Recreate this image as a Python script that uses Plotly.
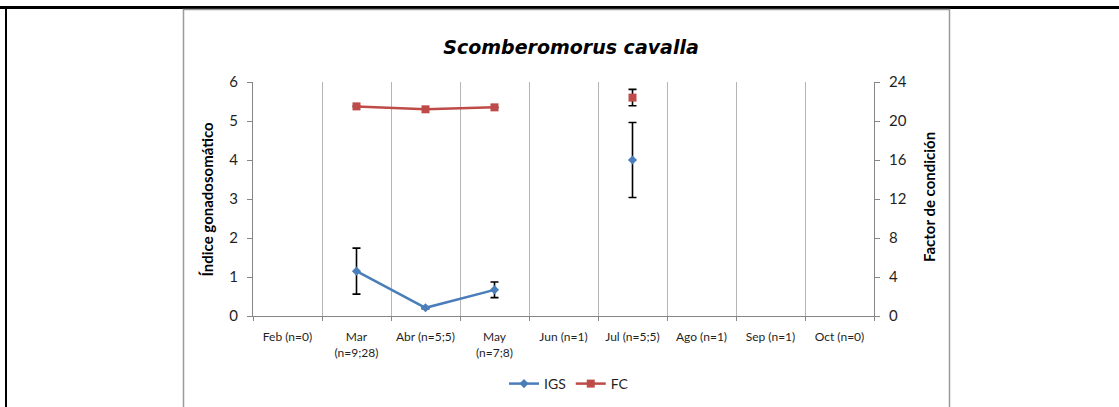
import plotly.graph_objects as go

# Monthly categories (sample sizes shown under each month)
months = ["Feb (n=0)", "Mar<br>(n=9;28)", "Abr (n=5;5)", "May<br>(n=7;8)",
          "Jun (n=1)", "Jul (n=5;5)", "Ago (n=1)", "Sep (n=1)", "Oct (n=0)"]

# Índice gonadosomático (IGS) mean and error
igs = [None, 1.15, 0.21, 0.67, None, 4.0, None, None, None]
igs_err = [None, 0.59, 0.02, 0.2, None, 0.96, None, None, None]

# Factor de condición (FC) mean and error
fc = [None, 21.5, 21.2, 21.4, None, 22.4, None, None, None]
fc_err = [None, None, None, None, None, 0.84, None, None, None]

W, H = 1119, 407
L, R, T, B = 253, 874, 82, 316   # plot-area edges in pixels
PW, PH = R - L, B - T


def px_x(x):
    return (x - L) / PW


def px_y(y):
    return (B - y) / PH


font_main = "Lato, 'Open Sans', sans-serif"
txt = "#1f1f1f"
blue = "#4A7EBB"
red = "#BE4B48"

fig = go.Figure()

fig.add_trace(go.Scatter(
    x=months, y=igs, name="IGS", mode="lines+markers",
    line=dict(color=blue, width=2.5),
    marker=dict(symbol="diamond", size=7, color=blue),
    error_y=dict(type="data", array=igs_err, visible=True,
                 color="black", thickness=1.6, width=4),
    connectgaps=False,
))

fig.add_trace(go.Scatter(
    x=months, y=fc, name="FC", mode="lines+markers", yaxis="y2",
    line=dict(color=red, width=2.5),
    marker=dict(symbol="square", size=8, color=red),
    error_y=dict(type="data", array=fc_err, visible=True,
                 color="black", thickness=1.6, width=4),
    connectgaps=False,
))

shapes = [
    # outer table rules
    dict(type="line", xref="paper", yref="paper",
         x0=px_x(0), x1=px_x(W), y0=px_y(7.5), y1=px_y(7.5),
         line=dict(color="black", width=3)),
    dict(type="line", xref="paper", yref="paper",
         x0=px_x(6), x1=px_x(6), y0=px_y(6), y1=px_y(H + 5),
         line=dict(color="black", width=2)),
    # chart frame
    dict(type="rect", xref="paper", yref="paper",
         x0=px_x(183.5), x1=px_x(949.5), y0=px_y(9.5), y1=px_y(H + 10),
         line=dict(color="#9a9a9a", width=1.5), fillcolor="rgba(0,0,0,0)"),
]

annotations = [
    dict(text="<b>Índice gonadosomático</b>", xref="paper", yref="paper",
         x=px_x(206), y=px_y(199.5), textangle=-90, showarrow=False,
         xanchor="center", yanchor="middle",
         font=dict(family=font_main, size=15, color="black")),
    dict(text="<b>Factor de condición</b>", xref="paper", yref="paper",
         x=px_x(929), y=px_y(197), textangle=-90, showarrow=False,
         xanchor="center", yanchor="middle",
         font=dict(family=font_main, size=15, color="black")),
]

fig.update_layout(
    width=W, height=H,
    margin=dict(l=L, r=W - R, t=T, b=H - B, autoexpand=False),
    paper_bgcolor="white", plot_bgcolor="white",
    shapes=shapes, annotations=annotations,
    title=dict(text="Scomberomorus cavalla", x=px_x(571), xref="paper",
               xanchor="center", y=1 - 47 / H, yref="container",
               yanchor="middle",
               font=dict(family="DejaVu Sans", size=19, color="black",
                         weight="bold", style="italic")),
    showlegend=True,
    legend=dict(orientation="h", x=px_x(569), y=px_y(384),
                xanchor="center", yanchor="middle",
                font=dict(family=font_main, size=14, color=txt),
                bgcolor="rgba(0,0,0,0)"),
    xaxis=dict(type="category", categoryorder="array", categoryarray=months,
               range=[-0.5, len(months) - 0.5], tickson="boundaries",
               showgrid=True, gridcolor="#b5b5b5", gridwidth=1,
               showline=True, linecolor="#868686", linewidth=1,
               ticks="outside", ticklen=4, tickcolor="#868686",
               ticklabelstandoff=10, tickangle=0,
               tickfont=dict(family=font_main, size=12, color=txt),
               zeroline=False, fixedrange=True),
    yaxis=dict(range=[0, 6], dtick=1, showgrid=False, zeroline=False,
               showline=True, linecolor="#868686", linewidth=1,
               ticks="outside", ticklen=5, tickcolor="#868686",
               ticklabelstandoff=6,
               tickfont=dict(family=font_main, size=15, color=txt)),
    yaxis2=dict(range=[0, 24], dtick=4, overlaying="y", side="right",
                showgrid=False, zeroline=False,
                showline=True, linecolor="#868686", linewidth=1,
                ticks="outside", ticklen=5, tickcolor="#868686",
                ticklabelstandoff=6,
                tickfont=dict(family=font_main, size=15, color=txt)),
)

fig.write_html("out.html")
